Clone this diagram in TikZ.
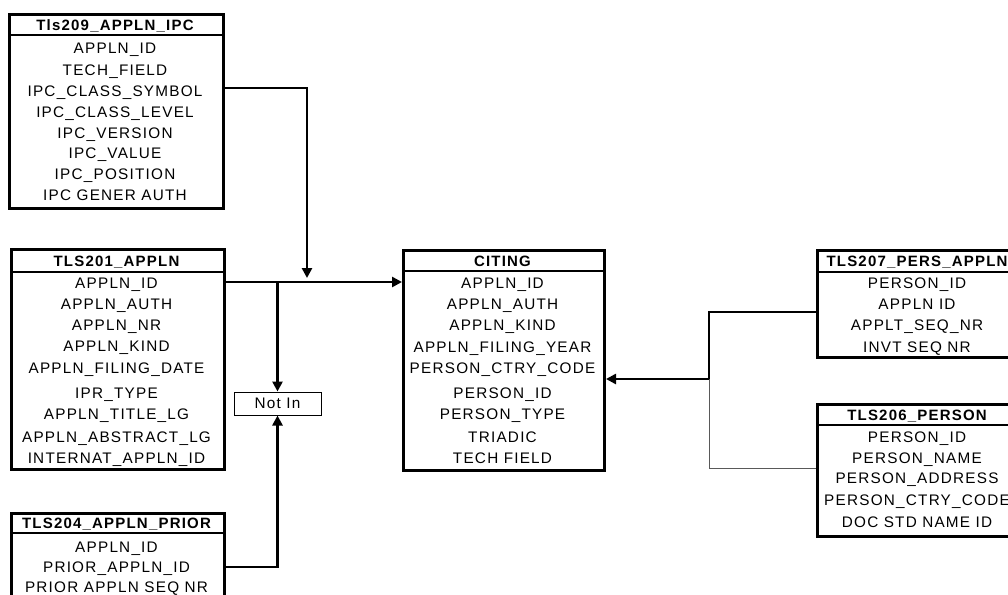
\documentclass[tikz,border=0pt]{standalone}
\usepackage{fontspec}
\setmainfont{Liberation Sans}[LetterSpace=8]
\usetikzlibrary{arrows.meta}
\begin{document}
\begin{tikzpicture}[x=1pt,y=-1pt,
  tbl/.style={draw, line width=3pt, rectangle, inner sep=0pt, anchor=north west},
  hdr/.style={line width=2pt},
  fld/.style={inner sep=0pt, anchor=base, font=\fontsize{15.3}{18}\selectfont, text=black},
  ttl/.style={inner sep=0pt, anchor=base, font=\fontsize{15}{18}\selectfont\bfseries, text=black},
  conn/.style={line width=2.6pt, -{Triangle[length=10pt,width=10pt]}},
  link/.style={line width=2.6pt},
  thinlink/.style={line width=1pt, draw=black!65},
  ]
\useasboundingbox (0,0) rectangle (1008,594);
\clip (0,0) rectangle (1008,594);

% ---------- Tls209_APPLN_IPC
\node[tbl, minimum width=214pt, minimum height=194pt] (ipc) at (8,13) {};
\draw[hdr] (ipc.west |- 0,35) -- (ipc.east |- 0,35);
\node[ttl] (ipc-t) at (115,31) {Tls209\_APPLN\_IPC};
\foreach \t/\y [count=\i] in {APPLN\_ID/48, TECH\_FIELD/70, IPC\_CLASS\_SYMBOL/91, IPC\_CLASS\_LEVEL/112, IPC\_VERSION/133, IPC\_VALUE/153, IPC\_POSITION/174, IPC GENER AUTH/195}
  \node[fld] (ipc-\i) at (115,\y+5) {\t};

% ---------- TLS201_APPLN
\node[tbl, minimum width=213pt, minimum height=220pt] (appln) at (10,248) {};
\draw[hdr] (appln.west |- 0,272) -- (appln.east |- 0,272);
\node[ttl] (appln-t) at (116.5,266) {TLS201\_APPLN};
\foreach \t/\y [count=\i] in {APPLN\_ID/283, APPLN\_AUTH/304, APPLN\_NR/325, APPLN\_KIND/346, APPLN\_FILING\_DATE/368, IPR\_TYPE/393, APPLN\_TITLE\_LG/414, APPLN\_ABSTRACT\_LG/437, INTERNAT\_APPLN\_ID/458}
  \node[fld] (appln-\i) at (116.5,\y+5) {\t};

% ---------- TLS204_APPLN_PRIOR
\node[tbl, minimum width=213pt, minimum height=110pt] (prior) at (10,512) {};
\draw[hdr] (prior.west |- 0,533) -- (prior.east |- 0,533);
\node[ttl] (prior-t) at (116.5,528) {TLS204\_APPLN\_PRIOR};
\foreach \t/\y [count=\i] in {APPLN\_ID/547, PRIOR\_APPLN\_ID/567, PRIOR APPLN SEQ NR/587}
  \node[fld] (prior-\i) at (116.5,\y+5) {\t};

% ---------- CITING
\node[tbl, minimum width=201pt, minimum height=220pt] (citing) at (402,249) {};
\draw[hdr] (citing.west |- 0,271) -- (citing.east |- 0,271);
\node[ttl] (citing-t) at (502.5,266) {CITING};
\foreach \t/\y [count=\i] in {APPLN\_ID/283, APPLN\_AUTH/304, APPLN\_KIND/325, APPLN\_FILING\_YEAR/347, PERSON\_CTRY\_CODE/368, PERSON\_ID/393, PERSON\_TYPE/414, TRIADIC/437, TECH FIELD/458}
  \node[fld] (citing-\i) at (502.5,\y+5) {\t};

% ---------- TLS207_PERS_APPLN
\node[tbl, minimum width=202pt, minimum height=107pt] (pers) at (816,249) {};
\draw[hdr] (pers.west |- 0,272) -- (pers.east |- 0,272);
\node[ttl] (pers-t) at (917,266) {TLS207\_PERS\_APPLN};
\foreach \t/\y [count=\i] in {PERSON\_ID/283, APPLN ID/304, APPLT\_SEQ\_NR/325, INVT SEQ NR/347}
  \node[fld] (pers-\i) at (917,\y+5) {\t};

% ---------- TLS206_PERSON
\node[tbl, minimum width=202pt, minimum height=132pt] (person) at (816,403) {};
\draw[hdr] (person.west |- 0,425) -- (person.east |- 0,425);
\node[ttl] (person-t) at (917,420) {TLS206\_PERSON};
\foreach \t/\y [count=\i] in {PERSON\_ID/437, PERSON\_NAME/458, PERSON\_ADDRESS/478, PERSON\_CTRY\_CODE/500, DOC STD NAME ID/522}
  \node[fld] (person-\i) at (917,\y+5) {\t};

% ---------- Not In
\node[draw, line width=1pt, minimum width=87pt, minimum height=23pt, inner sep=0pt,
      font=\fontsize{15.3}{18}\selectfont, text=black] (notin) at (277.5,403.5) {Not In};

% ---------- connectors
\coordinate (j1) at (307,278);
\coordinate (j2) at (709,379);
\draw[conn] (ipc.east |- 0,88) -| (j1);
\draw[conn] (appln.east |- 0,282) -- (citing.west |- 0,282);
\draw[conn] (notin.north |- 0,282) -- (notin.north);
\draw[conn] (prior.east |- 0,567) -| (notin.south);
\draw[link] (pers.west |- 0,312) -| (j2);
\draw[thinlink] (person.west |- 0,468) -| (j2);
\draw[conn] (j2) -- (citing.east |- j2);
\end{tikzpicture}
\end{document}
